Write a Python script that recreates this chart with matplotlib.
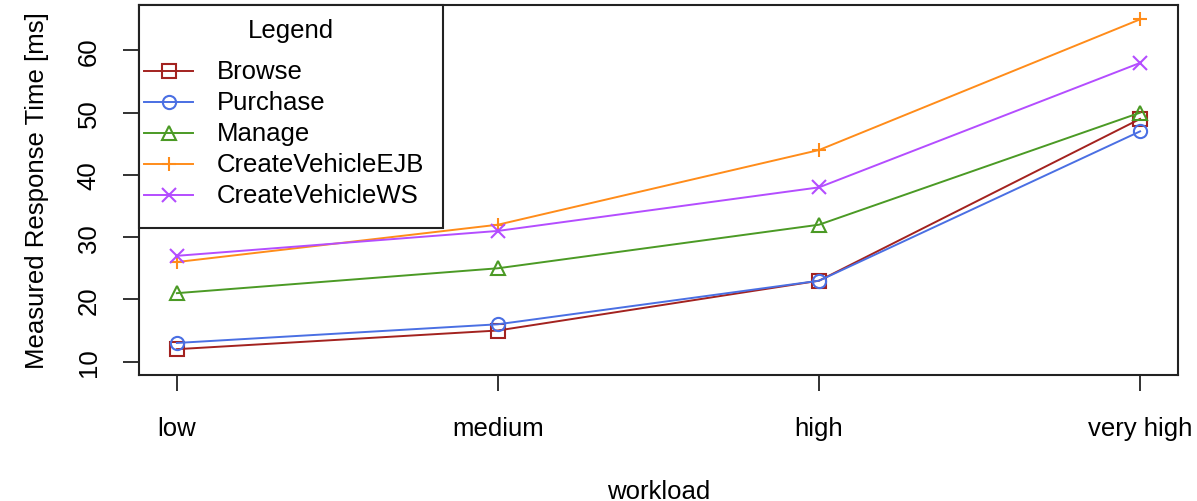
import matplotlib
matplotlib.use("Agg")
import matplotlib.pyplot as plt
from matplotlib.patches import Rectangle
from matplotlib.lines import Line2D

# Workload levels and measured response times (ms) per transaction type
workloads = ["low", "medium", "high", "very high"]
browse = [12, 15, 23, 49]
purchase = [13, 16, 23, 47]
manage = [21, 25, 32, 50]
create_ejb = [26, 32, 44, 65]
create_ws = [27, 31, 38, 58]

series = [
    ("Browse", browse, "#a3221f", "s"),
    ("Purchase", purchase, "#4a6fe3", "o"),
    ("Manage", manage, "#4b9a25", "^"),
    ("CreateVehicleEJB", create_ejb, "#ff8c1a", "+"),
    ("CreateVehicleWS", create_ws, "#b44dff", "x"),
]

plt.rcParams["font.family"] = ["Liberation Sans", "DejaVu Sans"]
FS = 18.5
W, H = 1197, 502

fig = plt.figure(figsize=(W / 100, H / 100), dpi=100)
ax = fig.add_axes([0.1161, 0.251, 0.868, 0.737])


def style(color, marker):
    filled = marker in ("+", "x")
    return dict(color=color, lw=1.4, marker=marker, markersize=9.5,
                markerfacecolor=color if filled else "none",
                markeredgecolor=color, markeredgewidth=1.5)


x = list(range(1, len(workloads) + 1))
for name, vals, color, marker in series:
    ax.plot(x, vals, label=name, **style(color, marker))

ax.set_xlim(0.882, 4.118)
ax.set_ylim(7.85, 67.3)
ax.set_xticks(x)
ax.set_xticklabels(workloads, fontsize=FS)
ax.set_yticks([10, 20, 30, 40, 50, 60])
ax.set_yticklabels(["10", "20", "30", "40", "50", "60"], fontsize=FS,
                   rotation=90, va="center")
ax.tick_params(axis="both", direction="out", length=11.5, width=1.3,
               color="#222222")
ax.tick_params(axis="x", pad=18)
ax.tick_params(axis="y", pad=16)
for s in ax.spines.values():
    s.set_linewidth(1.5)
    s.set_color("#222222")

ax.set_xlabel("workload", fontsize=FS, labelpad=28)
ax.set_ylabel("Measured Response Time [ms]", fontsize=FS, labelpad=20)


# Boxed legend in the upper-left corner, laid out in pixel units
def fx(px):
    return px / W


def fy(py):
    return 1 - py / H


tf = fig.transFigure
fig.add_artist(Rectangle((fx(139), fy(229)), fx(443) - fx(139),
                         fy(6) - fy(229), transform=tf, facecolor="white",
                         edgecolor="#222222", lw=1.5, zorder=5))
fig.text(fx(291), fy(31), "Legend", fontsize=FS, ha="center", va="center",
         zorder=6)
row_y = [72, 103, 134, 165, 196]
for (name, vals, color, marker), ry in zip(series, row_y):
    st = style(color, marker)
    st["marker"] = None
    fig.add_artist(Line2D([fx(144), fx(193)], [fy(ry), fy(ry)],
                          transform=tf, zorder=6, **st))
    fig.add_artist(Line2D([fx(168.5)], [fy(ry)], transform=tf, zorder=6,
                          **{**style(color, marker), "lw": 0}))
    fig.text(fx(217), fy(ry), name, fontsize=FS, ha="left", va="center",
             zorder=6)

fig.savefig("out.png", dpi=100)
